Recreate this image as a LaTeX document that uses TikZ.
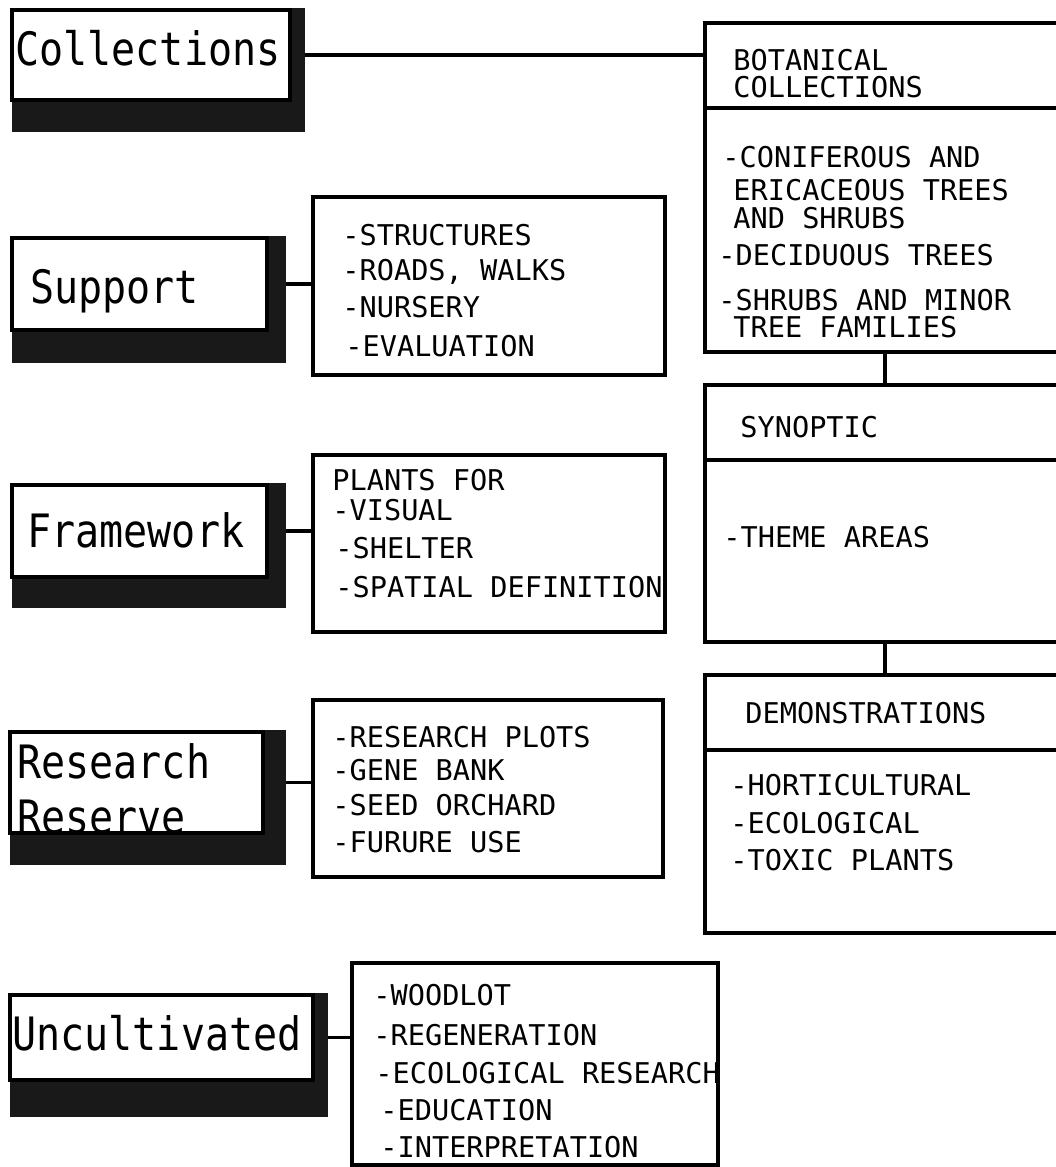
\documentclass[tikz,border=0pt]{standalone}
\usepackage{fontspec}
\setmainfont{DejaVu Sans Mono}
\newfontfamily\smallfnt{DejaVu Sans Mono}
\newfontfamily\bigfnt[FakeStretch=0.87]{DejaVu Sans Mono}
\usetikzlibrary{fit}
\tikzset{
  lblbox/.style={draw=black, line width=1.7pt, fill=white, inner sep=0pt, outer sep=0pt},
  shad/.style={fill=black!90, draw=none, inner sep=0pt, outer sep=0pt},
  listbox/.style={draw=black, line width=1.6pt, fill=white, inner sep=0pt, outer sep=0pt},
  divider/.style={line width=1.6pt},
  conn/.style={line width=1.6pt},
  smalltxt/.style={inner sep=0pt, anchor=base west, font=\smallfnt\fontsize{14.3pt}{16pt}\selectfont},
  bigtxt/.style={inner sep=0pt, anchor=base west, font=\bigfnt\fontsize{23pt}{26pt}\selectfont},
}
\begin{document}
\begin{tikzpicture}[x=0.5pt,y=-0.5pt]
\useasboundingbox (0,0) rectangle (1055,1167);
\fill[white] (0,0) rectangle (1055,1167);

% ---------- right column ----------
\node[listbox, fit={(705,23) (1065,352)}] (bot) {};
\draw[divider] (705,108) -- (1065,108);
\node[smalltxt] (b1) at (733,70) {BOTANICAL};
\node[smalltxt] (b2) at (733,97) {COLLECTIONS};
\node[smalltxt] (b3) at (722,167) {-CONIFEROUS AND};
\node[smalltxt] (b4) at (733,200) {ERICACEOUS TREES};
\node[smalltxt] (b5) at (733,228) {AND SHRUBS};
\node[smalltxt] (b6) at (718,265) {-DECIDUOUS TREES};
\node[smalltxt] (b7) at (718,310) {-SHRUBS AND MINOR};
\node[smalltxt] (b8) at (733,337) {TREE FAMILIES};

\node[listbox, fit={(705,385) (1065,642)}] (syn) {};
\draw[divider] (705,460) -- (1065,460);
\node[smalltxt] (s1) at (740,437) {SYNOPTIC};
\node[smalltxt] (s2) at (723,547) {-THEME AREAS};

\node[listbox, fit={(705,675) (1065,933)}] (dem) {};
\draw[divider] (705,750) -- (1065,750);
\node[smalltxt] (d1) at (745,723) {DEMONSTRATIONS};
\node[smalltxt] (d2) at (730,795) {-HORTICULTURAL};
\node[smalltxt] (d3) at (730,833) {-ECOLOGICAL};
\node[smalltxt] (d4) at (730,870) {-TOXIC PLANTS};

\draw[conn] (bot.south) -- (syn.north);
\draw[conn] (syn.south) -- (dem.north);

% ---------- Collections ----------
\node[shad, fit={(12,8) (305,132)}] (collsh) {};
\node[lblbox, fit={(12,10) (290,100)}] (coll) {};
\node[bigtxt] (colltxt) at (15,65) {Collections};
\draw[conn] (coll.east -| collsh.east) -- (coll.east -| bot.west);

% ---------- Support ----------
\node[shad, fit={(12,236) (286,363)}] (supsh) {};
\node[lblbox, fit={(12,238) (267,330)}] (sup) {};
\node[bigtxt] (suptxt) at (30,303) {Support};
\node[listbox, fit={(313,197) (665,375)}] (suplist) {};
\node[smalltxt] (sp1) at (342,245) {-STRUCTURES};
\node[smalltxt] (sp2) at (342,280) {-ROADS, WALKS};
\node[smalltxt] (sp3) at (342,317) {-NURSERY};
\node[smalltxt] (sp4) at (345,356) {-EVALUATION};
\draw[conn] (sup.east -| supsh.east) -- (sup.east -| suplist.west);

% ---------- Framework ----------
\node[shad, fit={(12,483) (286,608)}] (frsh) {};
\node[lblbox, fit={(12,485) (267,577)}] (fr) {};
\node[bigtxt] (frtxt) at (27,547) {Framework};
\node[listbox, fit={(313,455) (665,632)}] (frlist) {};
\node[smalltxt] (f1) at (332,490) {PLANTS FOR};
\node[smalltxt] (f2) at (332,520) {-VISUAL};
\node[smalltxt] (f3) at (335,558) {-SHELTER};
\node[smalltxt] (f4) at (335,597) {-SPATIAL DEFINITION};
\draw[conn] (fr.east -| frsh.east) -- (fr.east -| frlist.west);

% ---------- Research Reserve ----------
\node[shad, fit={(10,730) (286,865)}] (ressh) {};
\node[lblbox, fit={(10,732) (263,833)}] (res) {};
\node[bigtxt] (restxt1) at (17,778) {Research};
\node[bigtxt] (restxt2) at (17,833) {Reserve};
\node[listbox, fit={(313,700) (663,877)}] (reslist) {};
\node[smalltxt] (r1) at (332,747) {-RESEARCH PLOTS};
\node[smalltxt] (r2) at (332,780) {-GENE BANK};
\node[smalltxt] (r3) at (332,815) {-SEED ORCHARD};
\node[smalltxt] (r4) at (332,852) {-FURURE USE};
\draw[conn] (res.east -| ressh.east) -- (res.east -| reslist.west);

% ---------- Uncultivated ----------
\node[shad, fit={(10,993) (328,1117)}] (unsh) {};
\node[lblbox, fit={(10,995) (313,1080)}] (un) {};
\node[bigtxt] (untxt) at (12,1050) {Uncultivated};
\node[listbox, fit={(352,963) (718,1165)}] (unlist) {};
\node[smalltxt] (u1) at (373,1005) {-WOODLOT};
\node[smalltxt] (u2) at (373,1045) {-REGENERATION};
\node[smalltxt] (u3) at (375,1083) {-ECOLOGICAL RESEARCH};
\node[smalltxt] (u4) at (380,1120) {-EDUCATION};
\node[smalltxt] (u5) at (380,1157) {-INTERPRETATION};
\draw[conn] (un.east -| unsh.east) -- (un.east -| unlist.west);
\end{tikzpicture}
\end{document}
